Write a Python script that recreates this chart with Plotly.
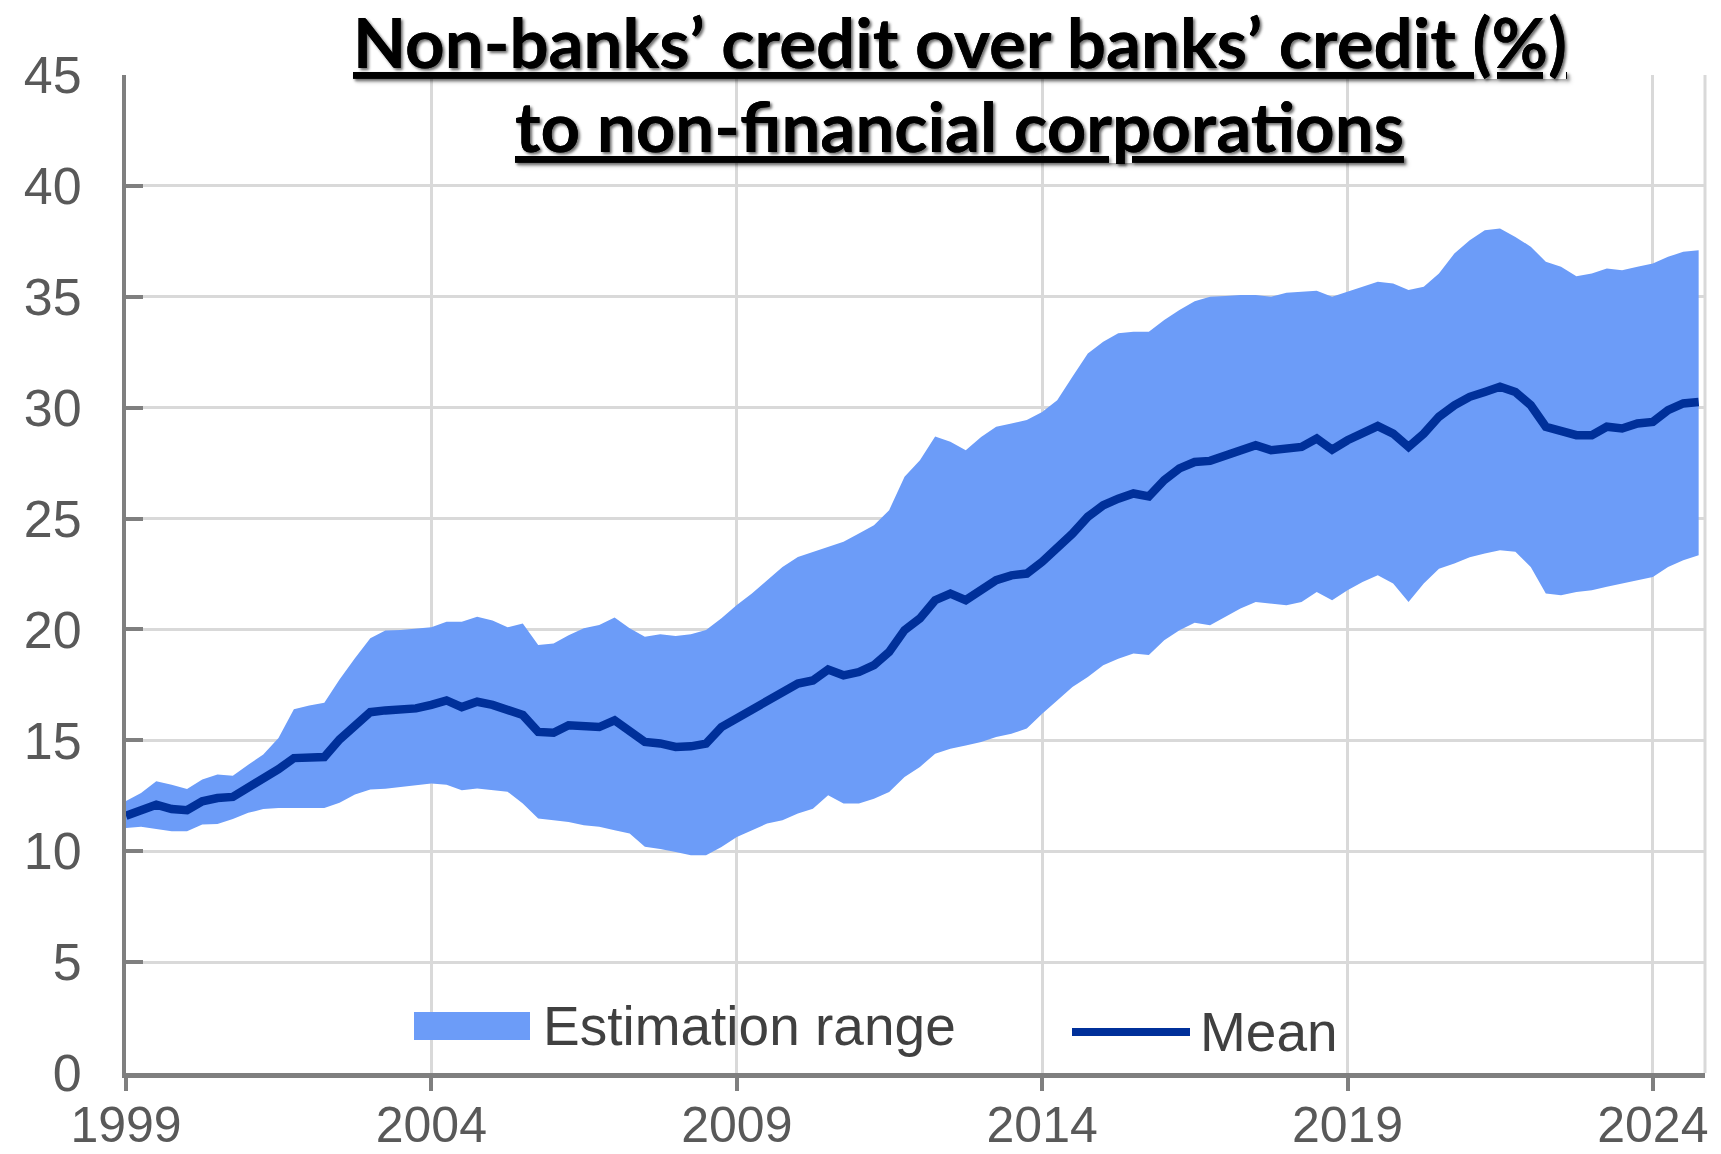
import pandas as pd
import plotly.graph_objects as go

# ---- data (quarterly, 1999Q1 .. 2024Q4) ----
quarters = pd.date_range("1999-01-01", "2024-10-01", freq="QS").strftime("%Y-%m-%d").tolist()

mean = [
    11.60, 11.83, 12.10, 11.90, 11.85, 12.25, 12.40, 12.45, 12.85, 13.26, 13.70, 14.20,
    14.24, 14.25, 15.04, 15.64, 16.27, 16.35, 16.40, 16.44, 16.60, 16.80, 16.50, 16.74,
    16.60, 16.40, 16.14, 15.38, 15.34, 15.68, 15.68, 15.60, 15.90, 15.46, 14.93, 14.86,
    14.70, 14.73, 14.85, 15.60, 15.98, 16.36, 16.73, 17.18, 17.56, 17.70, 18.19, 17.93,
    18.08, 18.39, 18.99, 19.97, 20.50, 21.32, 21.62, 21.32, 21.77, 22.22, 22.44, 22.52,
    23.05, 23.65, 24.32, 25.08, 25.60, 25.90, 26.13, 26.00, 26.73, 27.26, 27.55, 27.60,
    27.86, 28.08, 28.31, 28.08, 28.16, 28.23, 28.61, 28.11, 28.53, 28.90, 29.17, 28.83,
    28.23, 28.83, 29.59, 30.11, 30.49, 30.71, 30.94, 30.71, 30.11, 29.14, 28.98, 28.76,
    28.76, 29.14, 29.06, 29.29, 29.36, 29.89, 30.19, 30.26,
]
upper = [
    12.26, 12.63, 13.16, 13.00, 12.80, 13.23, 13.46, 13.40, 13.90, 14.36, 15.10, 16.40,
    16.57, 16.70, 17.74, 18.70, 19.60, 19.95, 19.97, 20.05, 20.10, 20.35, 20.35, 20.57,
    20.40, 20.10, 20.27, 19.30, 19.37, 19.74, 20.05, 20.20, 20.54, 20.05, 19.67, 19.78,
    19.70, 19.78, 19.97, 20.50, 21.10, 21.62, 22.22, 22.82, 23.27, 23.50, 23.73, 23.95,
    24.33, 24.70, 25.38, 26.88, 27.63, 28.70, 28.46, 28.08, 28.68, 29.14, 29.29, 29.44,
    29.81, 30.34, 31.39, 32.44, 32.97, 33.35, 33.42, 33.42, 33.95, 34.40, 34.80, 35.00,
    35.03, 35.08, 35.08, 35.00, 35.18, 35.23, 35.27, 35.00, 35.23, 35.48, 35.68, 35.60,
    35.30, 35.45, 36.05, 36.95, 37.55, 38.00, 38.08, 37.70, 37.26, 36.58, 36.35, 35.93,
    36.05, 36.28, 36.20, 36.35, 36.50, 36.80, 37.03, 37.10,
]
lower = [
    11.05, 11.10, 11.00, 10.90, 10.90, 11.20, 11.23, 11.45, 11.73, 11.90, 11.95, 11.95,
    11.94, 11.95, 12.18, 12.56, 12.78, 12.82, 12.90, 12.98, 13.05, 13.00, 12.75, 12.83,
    12.75, 12.68, 12.15, 11.47, 11.40, 11.32, 11.17, 11.10, 10.95, 10.80, 10.20, 10.10,
    9.96, 9.82, 9.82, 10.19, 10.64, 10.95, 11.25, 11.40, 11.70, 11.92, 12.52, 12.15,
    12.15, 12.37, 12.67, 13.35, 13.80, 14.40, 14.62, 14.77, 14.92, 15.15, 15.30, 15.53,
    16.20, 16.80, 17.40, 17.86, 18.38, 18.68, 18.91, 18.85, 19.51, 19.96, 20.30, 20.19,
    20.56, 20.94, 21.24, 21.17, 21.09, 21.24, 21.69, 21.32, 21.77, 22.14, 22.44, 22.07,
    21.24, 22.07, 22.74, 22.97, 23.25, 23.42, 23.57, 23.50, 22.82, 21.62, 21.54, 21.69,
    21.77, 21.92, 22.07, 22.22, 22.37, 22.82, 23.12, 23.35,
]

title_lines = ["Non-banks’ credit over banks’ credit (%)", "to non-financial corporations"]
legend_labels = ["Estimation range", "Mean"]

BAND = "#6C9CF8"
NAVY = "#00309A"
GRID = "#D9D9D9"
AXIS = "#7F7F7F"

W, H = 1721, 1154
ML, MR, MT, MB = 126, 16, 75, 81
PW, PH = W - ML - MR, H - MT - MB


def px(x):  # pixel -> paper x
    return (x - ML) / PW


def py(y):  # pixel -> paper y
    return (H - MB - y) / PH


fig = go.Figure()
fig.add_trace(go.Scatter(x=quarters, y=lower, mode="lines", line=dict(width=0, color=BAND),
                         showlegend=False, hoverinfo="skip"))
fig.add_trace(go.Scatter(x=quarters, y=upper, mode="lines", line=dict(width=0, color=BAND),
                         fill="tonexty", fillcolor=BAND, name=legend_labels[0], showlegend=False))
fig.add_trace(go.Scatter(x=quarters, y=mean, mode="lines", line=dict(width=8.5, color=NAVY),
                         name=legend_labels[1], showlegend=False))

ytickfont = dict(family="Liberation Sans, Arial, sans-serif", size=52, color="#595959")
xtickfont = dict(family="Liberation Sans, Arial, sans-serif", size=50, color="#595959")

fig.update_xaxes(
    type="date", range=["1999-01-01", "2024-11-08"],
    tick0="1999-01-01", dtick="M60", tickformat="%Y",
    showgrid=True, gridcolor=GRID, gridwidth=3,
    showline=True, linecolor=AXIS, linewidth=5,
    ticks="outside", ticklen=13, tickwidth=4, tickcolor=AXIS,
    tickfont=xtickfont, ticklabelstandoff=-9, zeroline=False, automargin=False,
)
fig.update_yaxes(
    range=[0, 45], tick0=0, dtick=5,
    showgrid=True, gridcolor=GRID, gridwidth=3,
    showline=True, linecolor=AXIS, linewidth=4,
    ticks="inside", ticklen=17, tickwidth=4, tickcolor=AXIS,
    tickfont=ytickfont, ticklabelstandoff=30, zeroline=False, automargin=False,
)

shapes = [
    # right border of the plot area
    dict(type="line", xref="paper", yref="paper", x0=1, x1=1, y0=0, y1=1,
         line=dict(color=GRID, width=3), layer="below"),
    # white backgrounds behind legend entries (hide gridlines)
    dict(type="rect", xref="paper", yref="paper", x0=px(404), x1=px(962), y0=py(1057), y1=py(985),
         fillcolor="white", line=dict(width=0), layer="between"),
    dict(type="rect", xref="paper", yref="paper", x0=px(1060), x1=px(1344), y0=py(1066), y1=py(1003),
         fillcolor="white", line=dict(width=0), layer="between"),
    # legend swatches
    dict(type="rect", xref="paper", yref="paper", x0=px(414), x1=px(530), y0=py(1040), y1=py(1012),
         fillcolor=BAND, line=dict(width=0), layer="above"),
    dict(type="line", xref="paper", yref="paper", x0=px(1072), x1=px(1190), y0=py(1032), y1=py(1032),
         line=dict(color=NAVY, width=8), layer="above"),
]

legfont = dict(family="Liberation Sans, Arial, sans-serif", size=55, color="#404040")
titlefont = dict(family="Lato, Open Sans, sans-serif", size=69, color="black", weight="bold",
                 shadow="2px 2px 3px rgba(0,0,0,0.35)")

annotations = [
    dict(text=legend_labels[0], xref="paper", yref="paper", x=px(541), y=py(1026),
         xanchor="left", yanchor="middle", showarrow=False, font=legfont),
    dict(text=legend_labels[1], xref="paper", yref="paper", x=px(1198), y=py(1032),
         xanchor="left", yanchor="middle", showarrow=False, font=legfont),
    dict(text="<u>" + title_lines[0] + "</u>", xref="paper", yref="paper", x=px(960), y=py(42),
         xanchor="center", yanchor="middle", showarrow=False, font=titlefont),
    dict(text="<u>" + title_lines[1] + "</u>", xref="paper", yref="paper", x=px(959), y=py(125),
         xanchor="center", yanchor="middle", showarrow=False, font=titlefont),
]

fig.update_layout(
    width=W, height=H,
    margin=dict(l=ML, r=MR, t=MT, b=MB),
    plot_bgcolor="white", paper_bgcolor="white",
    showlegend=False,
    shapes=shapes, annotations=annotations,
)

fig.write_html("out.html", config={"displayModeBar": False},
               post_script="document.body.style.margin='0';")
